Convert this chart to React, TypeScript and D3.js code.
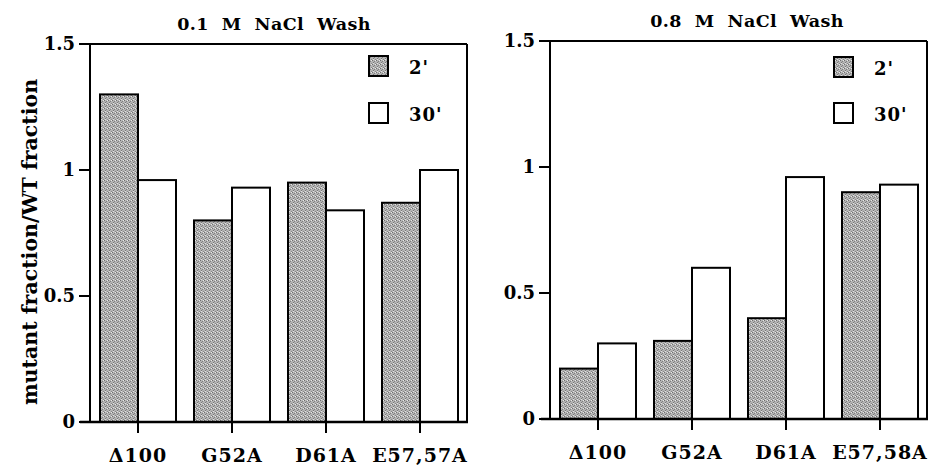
import React from "react";
import * as d3 from "d3";

const categoriesLeft = ["\u0394100", "G52A", "D61A", "E57,57A"];
const categoriesRight = ["\u0394100", "G52A", "D61A", "E57,58A"];
const left2 = [1.3, 0.8, 0.95, 0.87];
const left30 = [0.96, 0.93, 0.84, 1.0];
const right2 = [0.2, 0.31, 0.4, 0.9];
const right30 = [0.3, 0.6, 0.96, 0.93];
const yTicks = [0, 0.5, 1, 1.5];
const yTickLabels = ["0", "0.5", "1", "1.5"];
const titles = ["0.1  M  NaCl  Wash", "0.8  M  NaCl  Wash"];
const legendLabels = ["2'", "30'"];
const yLabel = "mutant fraction/WT fraction";

const FONT = "DejaVu Serif";
const txt = (size: number, ls: number): React.CSSProperties => ({
  fontFamily: FONT,
  fontWeight: 700,
  fontSize: size + "px",
  letterSpacing: ls + "px",
  whiteSpace: "pre",
});

type PanelProps = {
  cats: string[];
  s2: number[];
  s30: number[];
  title: string;
  frame: { l: number; t: number; r: number; b: number };
  axisStart: number;
  titleX: number;
  titleY: number;
  legendX: number;
  legendY: number[];
};

function Panel(p: PanelProps) {
  const { frame } = p;
  const y = d3.scaleLinear().domain([0, 1.5]).range([frame.b, frame.t]);
  const x = d3
    .scalePoint<string>()
    .domain(p.cats)
    .range([frame.l + 48, frame.r - 47]);
  const bw = 38;
  return (
    <g>
      <text x={p.titleX} y={p.titleY} textAnchor="middle" style={txt(17.5, 0.4)}>
        {p.title}
      </text>
      {p.cats.map((c, i) => (
        <g key={c}>
          <rect
            x={(x(c) as number) - bw}
            y={y(p.s2[i])}
            width={bw}
            height={frame.b - y(p.s2[i])}
            fill="url(#dither)"
            stroke="#000"
            strokeWidth={2}
          />
          <rect
            x={x(c) as number}
            y={y(p.s30[i])}
            width={bw}
            height={frame.b - y(p.s30[i])}
            fill="#fff"
            stroke="#000"
            strokeWidth={2}
          />
        </g>
      ))}
      <line x1={frame.l} y1={frame.t} x2={frame.r} y2={frame.t} stroke="#000" strokeWidth={2} />
      <line x1={frame.r} y1={frame.t} x2={frame.r} y2={frame.b} stroke="#000" strokeWidth={2} />
      <line x1={frame.l} y1={frame.t} x2={frame.l} y2={frame.b} stroke="#000" strokeWidth={2} />
      <line x1={p.axisStart} y1={frame.b} x2={frame.r + 1} y2={frame.b} stroke="#000" strokeWidth={2.5} />
      {yTicks.map((t, i) => (
        <g key={t}>
          <line x1={frame.l - 11} x2={frame.l} y1={y(t)} y2={y(t)} stroke="#000" strokeWidth={2} />
          <text x={frame.l - 15} y={y(t)} dy="0.36em" textAnchor="end" style={txt(18, 0)}>
            {yTickLabels[i]}
          </text>
        </g>
      ))}
      {p.cats.map((c) => (
        <g key={"t" + c}>
          <line
            x1={x(c) as number}
            x2={x(c) as number}
            y1={frame.b}
            y2={frame.b + 11}
            stroke="#000"
            strokeWidth={2}
          />
          <text x={x(c) as number} y={frame.b + 40} textAnchor="middle" style={txt(19, 1)}>
            {c}
          </text>
        </g>
      ))}
      {legendLabels.map((l, i) => (
        <g key={l}>
          <rect
            x={p.legendX}
            y={p.legendY[i]}
            width={19}
            height={20}
            fill={i === 0 ? "url(#dither)" : "#fff"}
            stroke="#000"
            strokeWidth={2}
          />
          <text x={p.legendX + 40} y={p.legendY[i] + 18} style={txt(18, 1)}>
            {l}
          </text>
        </g>
      ))}
    </g>
  );
}

export default function App() {
  return (
    <svg
      width={942}
      height={467}
      style={{ position: "absolute", left: 0, top: 0, background: "#fff" }}
    >
      <defs>
        <pattern id="dither" width={4} height={4} patternUnits="userSpaceOnUse">
          <rect width={4} height={4} fill="#b4b4b4" />
          <rect x={0} y={0} width={1} height={1} fill="#707070" />
          <rect x={2} y={1} width={1} height={1} fill="#808080" />
          <rect x={1} y={2} width={1} height={1} fill="#787878" />
          <rect x={3} y={3} width={1} height={1} fill="#888" />
          <rect x={3} y={0} width={1} height={1} fill="#e8e8e8" />
          <rect x={1} y={3} width={1} height={1} fill="#e0e0e0" />
        </pattern>
      </defs>
      <rect width={942} height={467} fill="#fff" />
      <text transform="translate(37,242) rotate(-90)" textAnchor="middle" style={txt(20.5, 0)}>
        {yLabel}
      </text>
      <Panel
        cats={categoriesLeft}
        s2={left2}
        s30={left30}
        title={titles[0]}
        frame={{ l: 90, t: 44, r: 467, b: 422 }}
        axisStart={80}
        titleX={274}
        titleY={30}
        legendX={369}
        legendY={[56, 103]}
      />
      <Panel
        cats={categoriesRight}
        s2={right2}
        s30={right30}
        title={titles[1]}
        frame={{ l: 550, t: 41, r: 927, b: 419 }}
        axisStart={541}
        titleX={747}
        titleY={27}
        legendX={834}
        legendY={[57, 103]}
      />
    </svg>
  );
}
